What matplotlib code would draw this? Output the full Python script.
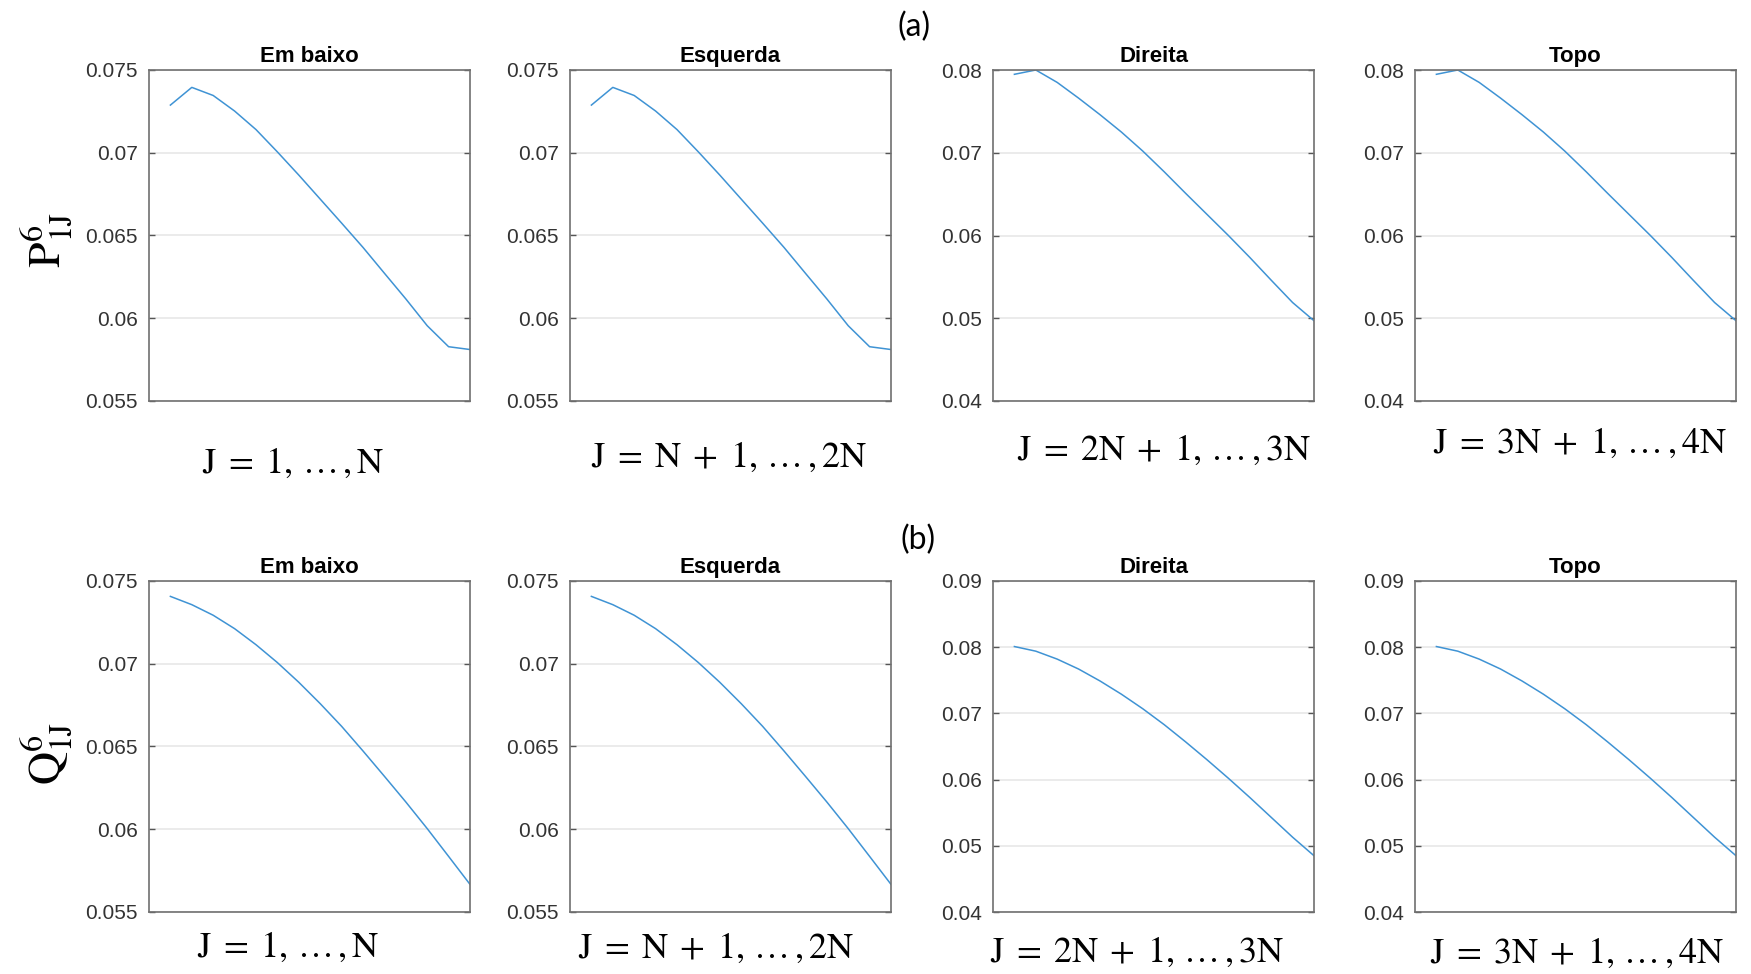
import numpy as np
import matplotlib.pyplot as plt

plt.rcParams['mathtext.fontset'] = 'stix'

W, H = 1751, 974
N = 15
J = np.arange(1, N + 1)

TITLES = ["Em baixo", "Esquerda", "Direita", "Topo"]
XLABELS = [r"$\mathrm{J}\;=\;1,\,\ldots\,,\mathrm{N}$",
           r"$\mathrm{J}\;=\;\mathrm{N}\;+\;1,\,\ldots\,,2\mathrm{N}$",
           r"$\mathrm{J}\;=\;2\mathrm{N}\;+\;1,\,\ldots\,,3\mathrm{N}$",
           r"$\mathrm{J}\;=\;3\mathrm{N}\;+\;1,\,\ldots\,,4\mathrm{N}$"]

# (a) P^6_1J
p_baixo = [0.07288, 0.07395, 0.07346, 0.07252, 0.07140, 0.07005, 0.06865, 0.06720,
           0.06575, 0.06428, 0.06272, 0.06117, 0.05955, 0.05828, 0.05811]
p_esquerda = [0.07288, 0.07395, 0.07346, 0.07252, 0.07140, 0.07005, 0.06865, 0.06720,
              0.06575, 0.06428, 0.06272, 0.06117, 0.05955, 0.05828, 0.05811]
p_direita = [0.07948, 0.08000, 0.07850, 0.07660, 0.07460, 0.07250, 0.07020, 0.06770,
             0.06510, 0.06255, 0.06000, 0.05735, 0.05460, 0.05190, 0.04970]
p_topo = [0.07948, 0.08000, 0.07850, 0.07660, 0.07460, 0.07250, 0.07020, 0.06770,
          0.06510, 0.06255, 0.06000, 0.05735, 0.05460, 0.05190, 0.04970]

# (b) Q^6_1J
q_baixo = [0.07407, 0.07357, 0.07293, 0.07212, 0.07115, 0.07007, 0.06888, 0.06759,
           0.06622, 0.06473, 0.06320, 0.06165, 0.06004, 0.05836, 0.05667]
q_esquerda = [0.07407, 0.07357, 0.07293, 0.07212, 0.07115, 0.07007, 0.06888, 0.06759,
              0.06622, 0.06473, 0.06320, 0.06165, 0.06004, 0.05836, 0.05667]
q_direita = [0.08010, 0.07940, 0.07820, 0.07670, 0.07490, 0.07290, 0.07070, 0.06830,
             0.06570, 0.06300, 0.06020, 0.05730, 0.05430, 0.05130, 0.04850]
q_topo = [0.08010, 0.07940, 0.07820, 0.07670, 0.07490, 0.07290, 0.07070, 0.06830,
          0.06570, 0.06300, 0.06020, 0.05730, 0.05430, 0.05130, 0.04850]

rows = [[p_baixo, p_esquerda, p_direita, p_topo],
        [q_baixo, q_esquerda, q_direita, q_topo]]
yticks = [[[0.055, 0.06, 0.065, 0.07, 0.075]] * 2 + [[0.04, 0.05, 0.06, 0.07, 0.08]] * 2,
          [[0.055, 0.06, 0.065, 0.07, 0.075]] * 2 + [[0.04, 0.05, 0.06, 0.07, 0.08, 0.09]] * 2]

# layout in pixels
col_left = [149, 570, 993, 1415]
col_w = 321
row_top = [70, 581]
row_h = 331
xlab_pos = [[(293, 463), (729, 457), (1164, 450), (1580, 443)],
            [(288, 947), (716, 948), (1137, 952), (1577, 953)]]

fig = plt.figure(figsize=(W / 100, H / 100), dpi=100)

for r in range(2):
    for c in range(4):
        ax = fig.add_axes([col_left[c] / W, 1 - (row_top[r] + row_h) / H, col_w / W, row_h / H])
        ax.plot(J, rows[r][c], color='#3f93d4', lw=1.1)
        ax.set_xlim(0, N)
        yt = yticks[r][c]
        ax.set_ylim(yt[0], yt[-1])
        ax.set_yticks(yt)
        ax.set_yticklabels([f"{v:g}" for v in yt], family='Liberation Sans', fontsize=15, color='#333333')
        ax.set_xticks([])
        ax.yaxis.grid(True, color='#e8e8e8', lw=1.2)
        ax.set_axisbelow(True)
        ax.tick_params(axis='y', direction='in', length=4, width=1, color='#555555',
                       left=True, right=True, pad=8)
        for s in ax.spines.values():
            s.set_color('#707070')
            s.set_linewidth(1.2)
        ax.set_title(TITLES[c], fontsize=16, fontweight='bold', family='Liberation Sans', pad=6)
        x, y = xlab_pos[r][c]
        fig.text(x / W, 1 - y / H, XLABELS[c], fontsize=26, ha='center', va='center')

fig.text(47 / W, 1 - 240 / H, r"$\mathrm{P}_{1\mathrm{J}}^{6}$", fontsize=33, rotation=90,
         ha='center', va='center')
fig.text(47 / W, 1 - 753 / H, r"$\mathrm{Q}_{1\mathrm{J}}^{6}$", fontsize=33, rotation=90,
         ha='center', va='center')
fig.text(914 / W, 1 - 27 / H, "(a)", fontsize=23, family='Lato', ha='center', va='center')
fig.text(918 / W, 1 - 540 / H, "(b)", fontsize=23, family='Lato', ha='center', va='center')

fig.savefig('out.png', dpi=100)
